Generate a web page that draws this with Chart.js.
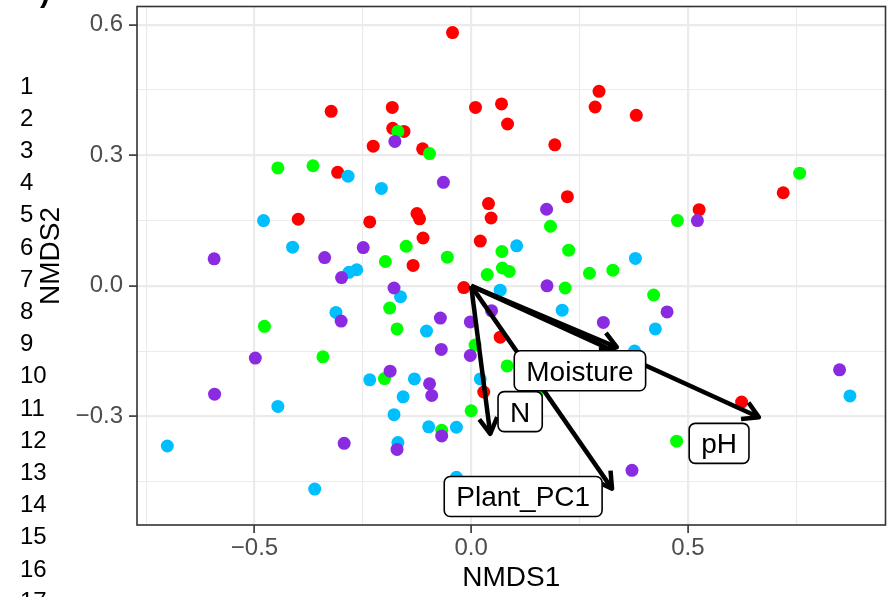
<!DOCTYPE html>
<html><head><meta charset="utf-8">
<script src="https://cdn.jsdelivr.net/npm/chart.js@4.4.1/dist/chart.umd.min.js"></script>
<style>html,body{margin:0;padding:0;background:#fff;}canvas{display:block;}</style>
</head><body>
<canvas id="c" width="892" height="597"></canvas>
<script>
// ---- data ----
const redX = [-0.043,-0.323,-0.182,-0.181,-0.155,-0.226,-0.112,-0.308,0.010,0.070,0.084,0.295,0.286,0.381,0.193,0.222,0.040,0.046,-0.399,-0.234,-0.125,-0.119,-0.111,0.021,-0.134,-0.017,0.067,0.029,0.720,0.526,0.624];
const redY = [0.582,0.401,0.410,0.362,0.355,0.321,0.315,0.261,0.410,0.418,0.372,0.447,0.411,0.392,0.324,0.205,0.189,0.156,0.153,0.147,0.166,0.154,0.110,0.103,0.047,-0.004,-0.118,-0.244,0.214,0.175,-0.267];
const greenX = [-0.169,-0.096,-0.446,-0.365,-0.150,-0.198,-0.055,0.071,0.037,0.072,0.088,0.183,0.225,0.273,0.327,0.217,0.421,0.476,0.758,-0.188,-0.171,-0.477,-0.342,0.009,0.083,-0.200,0.000,-0.068,0.474,0.152];
const greenY = [0.355,0.304,0.271,0.276,0.091,0.056,0.066,0.079,0.026,0.041,0.033,0.137,0.082,0.029,0.036,-0.005,-0.021,0.150,0.259,-0.051,-0.099,-0.093,-0.163,-0.136,-0.184,-0.213,-0.287,-0.332,-0.357,-0.245];
const blueX = [-0.284,-0.207,-0.479,-0.412,-0.282,-0.264,-0.163,0.105,0.379,0.067,0.210,0.425,0.377,-0.312,-0.103,-0.234,-0.131,-0.157,0.021,-0.178,-0.098,-0.034,-0.169,-0.446,-0.701,-0.361,-0.034,0.874];
const blueY = [0.252,0.224,0.150,0.089,0.031,0.037,-0.025,0.092,0.063,-0.010,-0.056,-0.099,-0.150,-0.061,-0.104,-0.216,-0.214,-0.255,-0.214,-0.296,-0.324,-0.325,-0.360,-0.277,-0.368,-0.467,-0.440,-0.253];
const purpleX = [-0.176,-0.064,-0.593,-0.338,-0.249,-0.299,-0.178,0.174,0.522,0.175,-0.300,-0.071,-0.002,0.047,0.452,0.305,-0.069,-0.002,-0.498,-0.592,-0.187,-0.096,-0.091,-0.068,-0.171,-0.293,0.371,0.850];
const purpleY = [0.332,0.238,0.062,0.065,0.088,0.019,-0.005,0.176,0.150,0.000,-0.081,-0.074,-0.083,-0.057,-0.060,-0.084,-0.146,-0.160,-0.166,-0.249,-0.196,-0.225,-0.252,-0.345,-0.376,-0.362,-0.424,-0.193];

const vectorNames = ['Moisture','N','pH','Plant_PC1'];
const vectorX = [0.336, 0.044, 0.664, 0.325];
const vectorY = [-0.141, -0.340, -0.302, -0.466];
const labelX = [0.251, 0.113, 0.572, 0.120];
const labelY = [-0.195, -0.289, -0.362, -0.484];

const xTickValues = [-0.75,-0.5,-0.25,0,0.25,0.5,0.75];
const xTickLabels = ['','\u22120.5','','0.0','','0.5',''];
const yTickValues = [-0.45,-0.3,-0.15,0,0.15,0.3,0.45,0.6];
const yTickLabels = ['','\u22120.3','','0.0','','0.3','','0.6'];
const sideNumbers = [1,2,3,4,5,6,7,8,9,10,11,12,13,14,15,16,17];
const xTitle = 'NMDS1';
const yTitle = 'NMDS2';

const FONT = '"Liberation Sans", Arial, Helvetica, sans-serif';

function pts(xs, ys){ return xs.map((v,i)=>({x:v, y:ys[i]})); }
function pointSet(xs, ys, color, order){
  return {data: pts(xs, ys), backgroundColor: color, pointBackgroundColor: color,
    pointRadius: 6.5, pointBorderWidth: 0, borderWidth: 0, order: order};
}
const arrowSets = vectorNames.map((n,i)=>({
  data: [{x:0,y:0},{x:vectorX[i], y:vectorY[i]}], showLine: true, pointRadius: 0,
  borderColor: '#000', borderWidth: 4.5, borderCapStyle: 'butt', order: 0
}));

const vectorPlugin = {
  id: 'vectorPlugin',
  afterDatasetsDraw(chart){
    const {ctx, scales:{x, y}} = chart;
    ctx.save();
    ctx.strokeStyle = '#000'; ctx.lineWidth = 4.5; ctx.lineJoin = 'round'; ctx.lineCap = 'butt';
    vectorNames.forEach((n,i)=>{
      const x0 = x.getPixelForValue(0), y0 = y.getPixelForValue(0);
      const x1 = x.getPixelForValue(vectorX[i]), y1 = y.getPixelForValue(vectorY[i]);
      const ang = Math.atan2(y1-y0, x1-x0), L = 18, a = Math.PI/6;
      ctx.beginPath();
      ctx.moveTo(x1 - L*Math.cos(ang-a), y1 - L*Math.sin(ang-a));
      ctx.lineTo(x1, y1);
      ctx.lineTo(x1 - L*Math.cos(ang+a), y1 - L*Math.sin(ang+a));
      ctx.stroke();
    });
    ctx.font = '28px ' + FONT;
    vectorNames.forEach((n,i)=>{
      const cx = x.getPixelForValue(labelX[i]), cy = y.getPixelForValue(labelY[i]);
      const w = ctx.measureText(n).width + 24, h = 40;
      ctx.beginPath();
      ctx.roundRect(cx - w/2, cy - h/2, w, h, 6);
      ctx.fillStyle = '#fff'; ctx.fill();
      ctx.lineWidth = 1.6; ctx.strokeStyle = '#000'; ctx.stroke();
      ctx.fillStyle = '#000'; ctx.textAlign = 'center'; ctx.textBaseline = 'alphabetic';
      ctx.fillText(n, cx, cy + 10);
    });
    ctx.restore();
  },
  afterDraw(chart){
    const {ctx, chartArea:a} = chart;
    ctx.save();
    ctx.strokeStyle = '#333'; ctx.lineWidth = 1.6;
    ctx.strokeRect(a.left, a.top, a.right - a.left, a.bottom - a.top);
    // y axis title
    ctx.save();
    ctx.translate(51, 256); ctx.rotate(-Math.PI/2);
    ctx.fillStyle = '#000'; ctx.font = '28px ' + FONT;
    ctx.textAlign = 'center'; ctx.textBaseline = 'middle';
    ctx.fillText(yTitle, 0, 0);
    ctx.restore();
    ctx.fillStyle = '#000'; ctx.font = '24px ' + FONT;
    ctx.textAlign = 'left'; ctx.textBaseline = 'middle';
    sideNumbers.forEach((n,i)=> ctx.fillText(String(n), 20, 87 + i*32.2));
    ctx.font = 'bold 30px ' + FONT; ctx.textBaseline = 'alphabetic';
    ctx.fillText(')', 40, 2);
    ctx.restore();
  }
};

function zeroPad(s){ s.paddingLeft = 0; s.paddingRight = 0; s.paddingTop = 0; s.paddingBottom = 0; }

new Chart(document.getElementById('c'), {
  type: 'scatter',
  data: { datasets: [...arrowSets,
    pointSet(purpleX, purpleY, '#8A2BE2', 1),
    pointSet(blueX, blueY, '#00BFFF', 2),
    pointSet(greenX, greenY, '#00FF00', 3),
    pointSet(redX, redY, '#FF0000', 4)] },
  options: {
    responsive: false, animation: false, devicePixelRatio: 1, events: [],
    layout: { padding: {left: 0, top: 5, right: 3, bottom: 0} },
    plugins: { legend: {display: false}, tooltip: {enabled: false} },
    scales: {
      x: {
        type: 'linear', min: -0.771, max: 0.956,
        afterBuildTicks: s => { s.ticks = xTickValues.map(v => ({value: v})); },
        afterFit: s => { s.height = 72; zeroPad(s); },
        border: {display: false},
        grid: { color: '#EBEBEB', lineWidth: c => xTickLabels[c.index] ? 2.2 : 1.1,
          tickLength: 8, tickWidth: 1.6, tickColor: c => xTickLabels[c.index] ? '#333' : 'rgba(0,0,0,0)' },
        ticks: { autoSkip: false, maxRotation: 0, padding: 1, color: '#4D4D4D',
          font: {family: FONT, size: 24}, callback: (v, i) => xTickLabels[i] },
        title: { display: true, text: xTitle, color: '#000', font: {family: FONT, size: 28}, padding: {top: 0, bottom: 2} }
      },
      y: {
        type: 'linear', min: -0.5496, max: 0.642,
        afterBuildTicks: s => { s.ticks = yTickValues.map(v => ({value: v})); },
        afterFit: s => { s.width = 137; zeroPad(s); },
        border: {display: false},
        grid: { color: '#EBEBEB', lineWidth: c => yTickLabels[c.index] ? 2.2 : 1.1,
          tickLength: 8, tickWidth: 1.6, tickColor: c => yTickLabels[c.index] ? '#333' : 'rgba(0,0,0,0)' },
        ticks: { autoSkip: false, padding: 6, color: '#4D4D4D',
          font: {family: FONT, size: 24}, callback: (v, i) => yTickLabels[i] },
        title: { display: false }
      }
    }
  },
  plugins: [vectorPlugin]
});
</script>
</body></html>
